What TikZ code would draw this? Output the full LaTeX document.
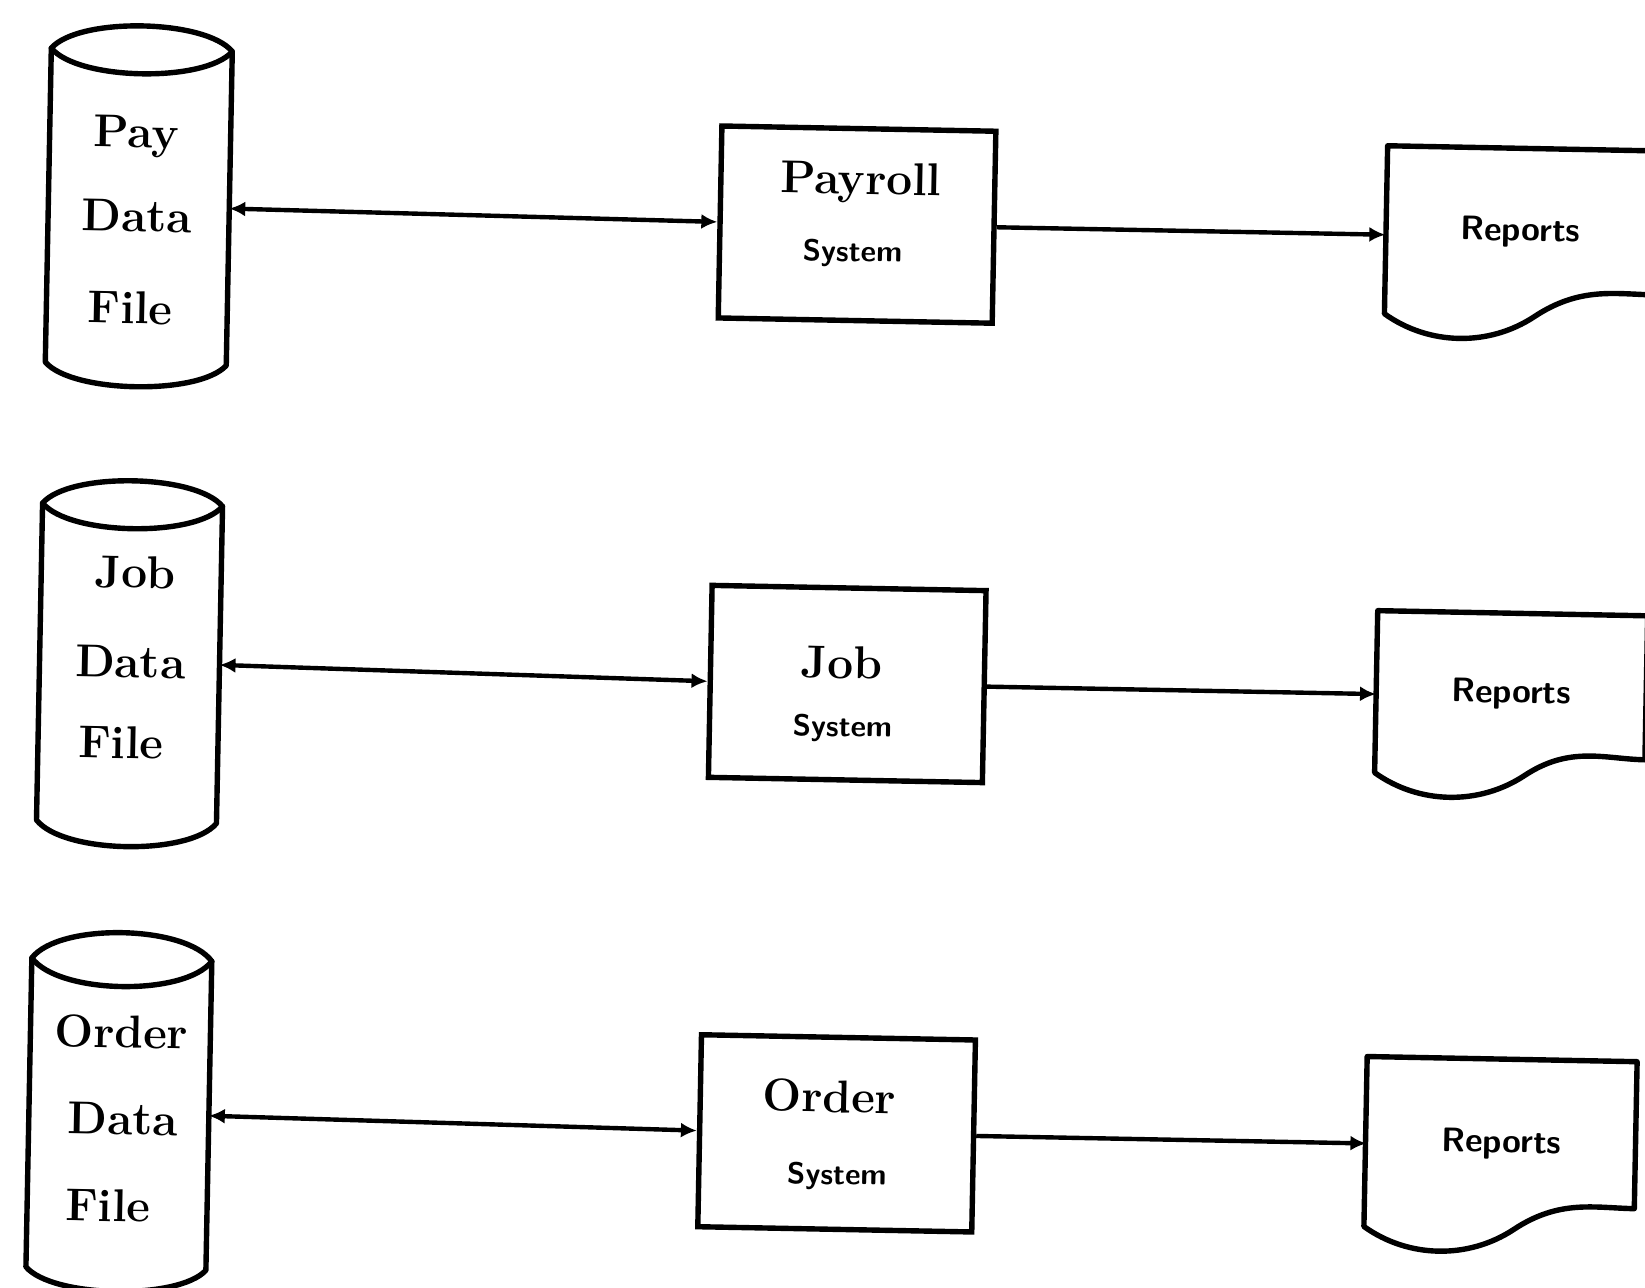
\documentclass[tikz,border=0pt]{standalone}
\usetikzlibrary{arrows.meta,calc}

% cylinder (data file): left, right, top corner, bottom corner, cap bulge, base bulge
\newcommand{\drumoutline}[6]{%
  \draw[outline] (#1,#4) -- (#1,#3)
    .. controls ({#1+0.15*(#2-#1)},{#3-1.33*#5}) and ({#2-0.15*(#2-#1)},{#3-1.33*#5}) .. (#2,#3)
    -- (#2,#4)
    .. controls ({#2-0.15*(#2-#1)},{#4+1.33*#6}) and ({#1+0.15*(#2-#1)},{#4+1.33*#6}) .. (#1,#4) -- cycle;
  \draw[outline] (#1,#3)
    .. controls ({#1+0.15*(#2-#1)},{#3+1.33*#5}) and ({#2-0.15*(#2-#1)},{#3+1.33*#5}) .. (#2,#3);}

% document symbol: left, top, bottom-left corner, rise of the bottom-right corner
\newcommand{\reportoutline}[4]{%
  \draw[outline] (#1,#3) -- (#1,#2) -- ({#1+270},#2) -- ({#1+270},{#3-#4})
    .. controls ({#1+230},{#3-#4}) and ({#1+195},{#3-31}) .. ({#1+150},#3)
    .. controls ({#1+105},{#3+31}) and ({#1+45},{#3+31}) .. (#1,#3) -- cycle;}

\begin{document}
\begin{tikzpicture}[x=0.5pt,y=-0.5pt,
  outline/.style={line width=2.7pt, line join=round, line cap=round},
  link/.style={line width=2.2pt},
  >={Latex[length=8pt,width=7.5pt]},
  holder/.style={draw=none, inner sep=0pt, outer sep=0pt},
  proc/.style={draw, line width=2.7pt, inner sep=0pt, minimum width=137pt, minimum height=96pt},
  drumtext/.style={font=\fontsize{23}{27}\selectfont\bfseries, anchor=base, inner sep=0pt},
  title/.style={font=\fontsize{23}{27}\selectfont\bfseries, anchor=base, inner sep=0pt},
  sub/.style={font=\fontsize{15}{18}\selectfont\sffamily\bfseries, anchor=base, inner sep=0pt},
  doc/.style={holder, minimum width=135pt, font=\fontsize{17}{20}\selectfont\sffamily\bfseries}]

\fill[white] (0,0) rectangle (1645,1288);
\useasboundingbox (0,0) rectangle (1645,1288);

\begin{scope}[rotate around={-1.1:(822,644)}, transform shape]

% ---------- payroll row ----------
\node[holder, minimum width=90.5pt, minimum height=157pt] (payfile) at (130.5,220) {};
\drumoutline{40}{221}{63}{377}{24}{23}
\node[drumtext] (payA) at (127,161) {Pay};
\node[drumtext] (payB) at (129,245) {Data};
\node[drumtext] (payC) at (124,337) {File};

\node[proc] (payroll) at (849,224) {};
\node[title] (payrollA) at (852,193.5) {Payroll};
\node[sub] (payrollB) at (845,261) {System};

\node[doc, minimum height=84pt] (rep1) at (1512.5,219) {Reports};
\reportoutline{1378}{135}{303}{24}

\draw[link,<->] (payfile.east) -- (payroll.west);
\draw[link,->] (payroll.east) -- (payroll.east -| rep1.west);

% ---------- job row ----------
\node[holder, minimum width=90pt, minimum height=158.5pt] (jobfile) at (130,676.5) {};
\drumoutline{40}{220}{518}{835}{24}{25}
\node[drumtext] (jobA) at (134,601) {Job};
\node[drumtext] (jobB) at (131,691) {Data};
\node[drumtext] (jobC) at (123,772) {File};

\node[proc] (job) at (848,683.5) {};
\node[title] (jobsA) at (842,678) {Job};
\node[sub] (jobsB) at (844,736) {System};

\node[doc, minimum height=81pt] (rep2) at (1512,681) {Reports};
\reportoutline{1377}{600}{762}{18}

\draw[link,<->] (jobfile.east) -- (job.west);
\draw[link,->] (job.east) -- (job.east -| rep2.west);

% ---------- order row ----------
\node[holder, minimum width=90pt, minimum height=154.5pt] (orderfile) at (128,1127.5) {};
\drumoutline{38}{218}{973}{1282}{27}{23}
\node[drumtext] (ordA) at (129,1061) {Order};
\node[drumtext] (ordB) at (132,1148) {Data};
\node[drumtext] (ordC) at (119,1235) {File};

\node[proc] (order) at (846,1133) {};
\node[title] (ordersA) at (838,1112) {Order};
\node[sub] (ordersB) at (847,1184) {System};

\node[doc, minimum height=85pt] (rep3) at (1511,1131) {Reports};
\reportoutline{1375}{1046}{1216}{23}

\draw[link,<->] (orderfile.east) -- (order.west);
\draw[link,->] (order.east) -- (order.east -| rep3.west);

\end{scope}
\end{tikzpicture}
\end{document}
